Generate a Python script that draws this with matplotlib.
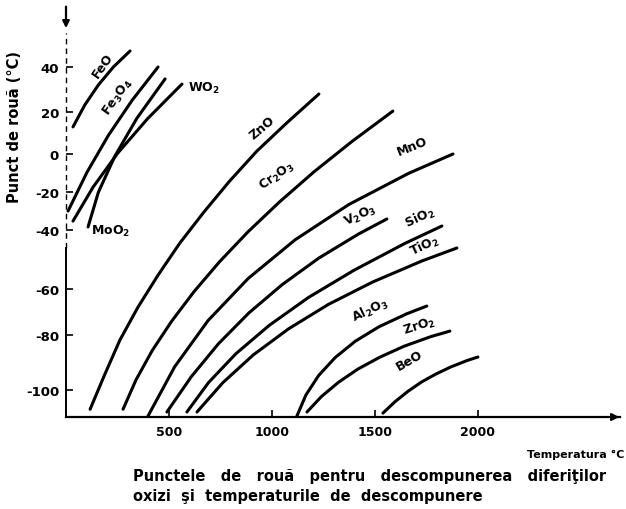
import numpy as np
import matplotlib
matplotlib.use('Agg')
import matplotlib.pyplot as plt

# dew point (deg C) vs decomposition temperature (deg C)
feo_t = [34, 91, 157, 230, 311]
feo_v = [12.9, 23.1, 32, 40, 47.1]
fe3o4_t = [10, 102, 206, 321, 447]
fe3o4_v = [-30, -9.6, 8.9, 25.2, 40]
wo2_t = [34, 131, 251, 396, 563]
wo2_v = [-35.3, -17.5, 0.4, 16.8, 32.4]
moo2_t = [107, 157, 237, 344, 481]
moo2_v = [-38.4, -20.2, -1.2, 17, 34.7]
zno_t = [117, 189, 262, 350, 447, 553, 670, 794, 927, 1074, 1228]
zno_v = [-107, -94.2, -81.8, -67.8, -55.3, -44.4, -30.5, -14.3, 1.4, 15, 28]
cr2o3_t = [277, 340, 419, 513, 622, 745, 884, 1037, 1205, 1389, 1587]
cr2o3_v = [-107, -96.3, -85.6, -74, -61.1, -50.8, -40.6, -25.2, -9.3, 6, 20.4]
mno_t = [398, 528, 690, 885, 1113, 1373, 1665, 1879]
mno_v = [-109.5, -91.5, -73.7, -56.4, -43.3, -26.6, -10.1, 0]
v2o3_t = [490, 608, 740, 888, 1050, 1228, 1422, 1558]
v2o3_v = [-108, -95.2, -83.2, -70.4, -58.5, -49.5, -41.3, -34.2]
sio2_t = [587, 692, 825, 987, 1177, 1397, 1644, 1825]
sio2_v = [-108, -97.3, -86.8, -75.8, -63.7, -53.7, -44.6, -37.9]
tio2_t = [636, 762, 910, 1081, 1274, 1490, 1728, 1898]
tio2_v = [-108, -97.3, -87.2, -77.3, -66.7, -57.6, -50.5, -46.1]
al2o3_t = [1121, 1165, 1227, 1307, 1404, 1520, 1654, 1752]
al2o3_v = [-109.5, -101.8, -94.7, -88.2, -82.3, -76.4, -70.8, -67.4]
zro2_t = [1170, 1240, 1323, 1417, 1523, 1641, 1771, 1864]
zro2_v = [-108, -102.4, -97.2, -92.4, -88.1, -84.1, -80.6, -78.3]
beo_t = [1539, 1597, 1660, 1726, 1796, 1869, 1947, 2000]
beo_v = [-108.4, -104.3, -100.5, -97.1, -94.2, -91.6, -89.3, -88]

x_ticks = [500, 1000, 1500, 2000]
y_ticks = [40, 20, 0, -20, -40, -60, -80, -100]

# the hand drawn y axis is not evenly spaced: row of each value on the page
ruler_v = [-200, -100, -80, -60, -40, -20, 0, 20, 40, 150]
ruler_row = [666, 391, 336, 290, 231, 193, 155, 113, 68, -180]


def fwd(v):
    return -np.interp(v, ruler_v, ruler_row)


def inv(y):
    return np.interp(-np.asarray(y), ruler_row[::-1], ruler_v[::-1])


curves = [
    (feo_t, feo_v, 'FeO', 180, 41, 55, 'center'),
    (fe3o4_t, fe3o4_v, 'Fe$_3$O$_4$', 250, 27, 55, 'center'),
    (wo2_t, wo2_v, 'WO$_2$', 592, 31, 0, 'left'),
    (moo2_t, moo2_v, 'MoO$_2$', 120, -40, 0, 'left'),
    (zno_t, zno_v, 'ZnO', 951, 13, 40, 'center'),
    (cr2o3_t, cr2o3_v, 'Cr$_2$O$_3$', 1024, -11, 35, 'center'),
    (mno_t, mno_v, 'MnO', 1680, 4, 22, 'center'),
    (v2o3_t, v2o3_v, 'V$_2$O$_3$', 1427, -32, 25, 'center'),
    (sio2_t, sio2_v, 'SiO$_2$', 1718, -33, 25, 'center'),
    (tio2_t, tio2_v, 'TiO$_2$', 1743, -45, 25, 'center'),
    (al2o3_t, al2o3_v, 'Al$_2$O$_3$', 1476, -69, 25, 'center'),
    (zro2_t, zro2_v, 'ZrO$_2$', 1718, -76, 18, 'center'),
    (beo_t, beo_v, 'BeO', 1670, -89, 30, 'center'),
]

plt.rcParams['axes.unicode_minus'] = False
plt.rcParams['font.family'] = 'DejaVu Sans'
plt.rcParams['font.weight'] = 'bold'

fig = plt.figure(figsize=(6.26, 5.10), dpi=100)
W, H = 626., 510.
ax = fig.add_axes([66 / W, (H - 418) / H, (620 - 66) / W, (418 - 5) / H])
ax.set_yscale('function', functions=(fwd, inv))
ax.set_xlim(0, 2690)
ax.set_ylim(inv(-418), inv(-5))

for t, v, name, lt, lv, rot, ha in curves:
    ax.plot(t, v, color='black', lw=2.2, solid_capstyle='round',
            solid_joinstyle='round')
    ax.text(lt, lv, name, rotation=rot, ha=ha, va='center', fontsize=9,
            fontweight='bold', rotation_mode='anchor')

for s in ['top', 'right', 'left']:
    ax.spines[s].set_visible(False)
ax.spines['bottom'].set_linewidth(1.6)

# left axis: solid at the bottom, dashed above
ax.plot([0, 0], [inv(-418), -46], color='black', lw=1.4, clip_on=False)
ax.plot([0, 0], [-46, 55], color='black', lw=1.0, ls=(0, (4, 3)),
        clip_on=False)
ax.annotate('', xy=(0, 56), xytext=(0, 68),
            arrowprops=dict(arrowstyle='-|>', color='black', lw=1.6,
                            mutation_scale=10), annotation_clip=False)
ax.annotate('', xy=(2700, inv(-418)), xytext=(2550, inv(-418)),
            arrowprops=dict(arrowstyle='-|>', color='black', lw=1.4,
                            mutation_scale=11), annotation_clip=False)

ax.set_xticks(x_ticks)
ax.set_xticklabels([str(x) for x in x_ticks], fontsize=9, fontweight='bold')
ax.set_yticks(y_ticks)
ax.set_yticklabels([str(y) for y in y_ticks], fontsize=9.5, fontweight='bold')
ax.minorticks_off()
ax.tick_params(axis='x', direction='in', length=5, width=1.2, pad=6)
ax.tick_params(axis='y', direction='in', length=5, width=1.2, pad=5)

fig.text(15 / W, 1 - 127 / H, 'Punct de rouă (°C)', rotation=90,
         ha='center', va='center', fontsize=10.5, fontweight='bold')
fig.text(624 / W, 1 - 455 / H, 'Temperatura °C', ha='right', va='center',
         fontsize=8, fontweight='bold')
fig.text(133 / W, 1 - 477 / H,
         'Punctele   de   rouă   pentru   descompunerea   diferiţilor',
         ha='left', va='center', fontsize=10.5, fontweight='bold')
fig.text(133 / W, 1 - 497 / H, 'oxizi  şi  temperaturile  de  descompunere',
         ha='left', va='center', fontsize=10.5, fontweight='bold')

fig.savefig('out.png', dpi=100)
